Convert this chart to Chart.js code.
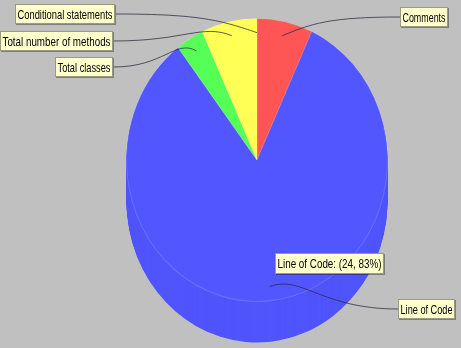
<!DOCTYPE html>
<html>
<head>
<meta charset="utf-8">
<script src="https://cdn.jsdelivr.net/npm/chart.js@4"></script>
<style>
  html, body { margin: 0; padding: 0; background: #c0c0c0; }
  canvas { display: block; }
</style>
</head>
<body>
<canvas id="pie" width="461" height="348"></canvas>
<script>
// dados do grafico
const labels = ['Comments', 'Line of Code', 'Total classes', 'Total number of methods', 'Conditional statements'];
const values = [2, 24, 1, 2, 0];
const colors = ['#ff5555', '#5256ff', '#55ff55', '#ffff55', '#ff55ff'];
const sideColors = ['#f85252', '#5054fb', '#52f852', '#f8f852', '#f852f8'];

// caixas das legendas (x, y, largura, altura) e item destacado
const boxes = [
    [400, 7, 48, 20],
    [398, 299, 57, 20],
    [55, 57, 58, 20],
    [0, 31, 113, 20],
    [15, 4, 100, 20]
];
const highlight = 1;
const highlightBox = [275, 253, 109, 21];

const DEPTH = 41;      // altura do "3D"
const SCALE_Y = 1.084; // pizza esticada na vertical

function drawBox(ctx, b, text) {
    const [x, y, w, h] = b;
    ctx.save();
    ctx.fillStyle = 'rgba(0,0,0,0.35)';
    ctx.fillRect(x + 1, y + 1, w, h);
    ctx.fillStyle = '#ffffcc';
    ctx.fillRect(x, y, w, h);
    ctx.strokeStyle = '#9a9a80';
    ctx.lineWidth = 1;
    ctx.strokeRect(x + 0.5, y + 0.5, w - 1, h - 1);
    ctx.font = '13px "Liberation Sans"';
    ctx.fillStyle = '#000';
    ctx.textBaseline = 'middle';
    const tw = ctx.measureText(text).width;
    const sx = Math.min(1, (w - 5) / tw);
    ctx.translate(x + w / 2, y + h / 2 + 1);
    ctx.scale(sx, 1);
    ctx.textAlign = 'center';
    ctx.fillText(text, 0, 0);
    ctx.restore();
}

const pie3d = {
    id: 'pie3d',
    beforeDatasetsDraw(chart) {
        const meta = chart.getDatasetMeta(0);
        const ctx = chart.ctx;
        const cx = meta.data[0].x, cy = meta.data[0].y;

        // lateral
        for (let d = DEPTH; d > 0; d--) {
            ctx.save();
            ctx.translate(cx, cy + d);
            ctx.scale(1, SCALE_Y);
            ctx.translate(-cx, -cy);
            meta.data.forEach((el, i) => {
                const bg = el.options.backgroundColor, bw = el.options.borderWidth;
                el.options.backgroundColor = sideColors[i];
                el.options.borderWidth = 0;
                el.draw(ctx);
                el.options.backgroundColor = bg;
                el.options.borderWidth = bw;
            });
            ctx.restore();
        }

        // topo
        ctx.save();
        ctx.translate(cx, cy);
        ctx.scale(1, SCALE_Y);
        ctx.translate(-cx, -cy);
        meta.data.forEach(el => el.draw(ctx));
        ctx.restore();
        return false;
    },
    afterDraw(chart) {
        const meta = chart.getDatasetMeta(0);
        const ctx = chart.ctx;
        const total = values.reduce((a, b) => a + b, 0);

        meta.data.forEach((el, i) => {
            const mid = (el.startAngle + el.endAngle) / 2;
            const r = el.outerRadius * 0.9;
            const ax = el.x + Math.cos(mid) * r;
            const ay = el.y + Math.sin(mid) * r * SCALE_Y;
            const b = boxes[i];
            const left = b[0] + b[2] / 2 < el.x;
            const bx = left ? b[0] + b[2] + 1 : b[0];
            const by = b[1] + b[3] / 2;

            ctx.save();
            ctx.strokeStyle = 'rgba(40,40,60,0.75)';
            ctx.lineWidth = 1;
            ctx.beginPath();
            ctx.moveTo(bx, by);
            ctx.bezierCurveTo(bx + (ax - bx) * 0.6, by,
                ax + (bx - ax) * 0.25, ay - 12,
                ax, ay);
            ctx.stroke();
            ctx.restore();

            drawBox(ctx, b, labels[i]);
        });

        const pct = Math.round(values[highlight] / total * 100);
        drawBox(ctx, highlightBox, labels[highlight] + ': (' + values[highlight] + ', ' + pct + '%)');
    }
};

new Chart(document.getElementById('pie'), {
    type: 'pie',
    data: {
        labels: labels,
        datasets: [{
            data: values,
            backgroundColor: colors,
            borderColor: 'rgba(255,255,255,0.15)',
            borderWidth: 1
        }]
    },
    options: {
        responsive: false,
        animation: false,
        layout: { padding: { left: 126, right: 73, top: 29, bottom: 57 } },
        plugins: {
            legend: { display: false },
            tooltip: { enabled: false }
        }
    },
    plugins: [pie3d]
});
</script>
</body>
</html>
